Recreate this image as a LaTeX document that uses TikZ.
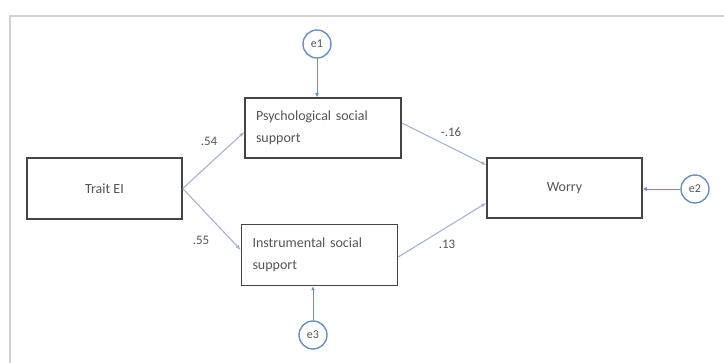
\documentclass[tikz,border=0pt]{standalone}
\usepackage{fontspec}
\setmainfont{Carlito}
\usetikzlibrary{arrows.meta}
\definecolor{txt}{HTML}{555555}
\definecolor{boxc}{HTML}{444444}
\definecolor{arrc}{HTML}{A3B4D2}
\definecolor{circc}{HTML}{6A8FC2}
\definecolor{framec}{HTML}{D2D2D2}
\begin{document}
\begin{tikzpicture}[x=1pt,y=-1pt,
  varbox/.style={draw=boxc,line width=1.5pt,rectangle,minimum width=155pt,minimum height=61pt,inner sep=0pt,text=txt,font=\fontsize{14}{22}\selectfont},
  tlbox/.style={varbox,align=left,text width=134pt,inner xsep=11pt},
  errc/.style={draw=circc,line width=1.4pt,circle,minimum size=28pt,inner sep=0pt,text=txt,font=\fontsize{12}{14}\selectfont},
  path/.style={draw=arrc,line width=1.1pt,-{Latex[length=5pt,width=4pt]}},
  epath/.style={draw=circc,line width=0.9pt,-{Latex[length=4pt,width=4pt]}},
  coef/.style={text=txt,font=\fontsize{13}{15}\selectfont,inner sep=0pt}
]
\useasboundingbox (0,0) rectangle (724,363);
\fill[white] (0,0) rectangle (724,363);
\draw[framec,line width=1.5pt] (10,363) -- (10,16) -- (724,16);

\node[varbox] (trait) at (104.5,188.5) {Trait EI};
\node[tlbox,minimum width=156pt,minimum height=60pt] (psych) at (323,128) {Psychological social\\support};
\node[tlbox] (instr) at (319.5,255) {Instrumental social\\support};
\node[varbox,minimum height=60pt] (worry) at (564.5,188) {Worry};

\node[errc] (e1) at (317,44) {e1};
\node[errc] (e2) at (695,189) {e2};
\node[errc] (e3) at (313,335) {e3};

\draw[path] (trait.east) -- (psych.west |- 0,132);
\draw[path] (trait.east) -- (instr.west |- 0,250);
\draw[path] (psych.east |- 0,123) -- (worry.west |- 0,165);
\draw[path] (instr.east |- 0,257) -- (worry.west |- 0,203);

\draw[epath] (e1.south) -- (e1.south |- psych.north);
\draw[epath] (e3.north) -- (e3.north |- instr.south);
\draw[epath] (e2.west) -- (e2.west -| worry.east);

\node[coef] (c1) at (209,141) {.54};
\node[coef] (c2) at (201,240) {.55};
\node[coef] (c3) at (451,132) {-.16};
\node[coef] (c4) at (447,244) {.13};
\end{tikzpicture}
\end{document}
